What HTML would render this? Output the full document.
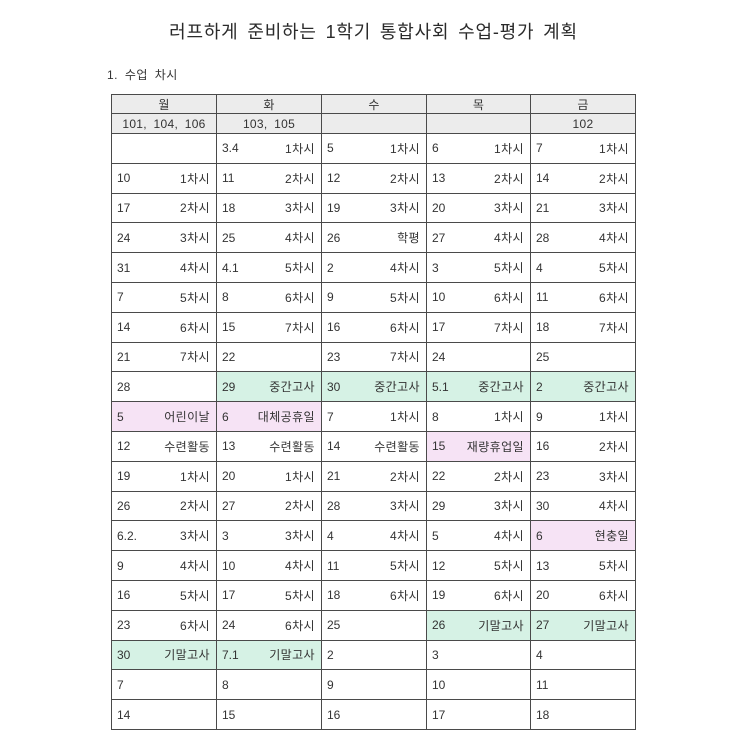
<!DOCTYPE html>
<html><head><meta charset="utf-8">
<style>
html,body{margin:0;padding:0;background:#fff;}
body{width:743px;height:756px;position:relative;overflow:hidden;font-family:"Liberation Sans","Noto Sans CJK KR",sans-serif;color:#333;}
.title{position:absolute;left:0;width:743px;top:20px;text-align:center;font-size:18px;line-height:24px;color:#2a2a2a;letter-spacing:0.8px;word-spacing:3px;padding-left:2px;}
.sub{position:absolute;left:107px;top:67px;font-size:12px;line-height:16px;color:#333;letter-spacing:0.5px;word-spacing:3px;}
.grid{position:absolute;left:111px;top:94px;width:525px;box-sizing:border-box;border-left:1px solid #4a4a4a;border-top:1px solid #4a4a4a;display:grid;grid-template-columns:105px 105px 105px 104px 105px;grid-template-rows:19px 20px repeat(20,29.8px);}
.grid div{box-sizing:border-box;border-right:1px solid #4a4a4a;border-bottom:1px solid #4a4a4a;display:flex;align-items:center;justify-content:space-between;padding:0 6px 0 5px;font-size:12px;white-space:nowrap;}
.grid div span+span{letter-spacing:0.4px;}
.grid div.h{background:#ececec;justify-content:center;padding:0;word-spacing:3px;letter-spacing:0.3px;}
.grid div.g{background:#d6f2e5;}
.grid div.p{background:#f6e3f5;}
</style></head><body>
<div class="title">러프하게 준비하는 1학기 통합사회 수업-평가 계획</div>
<div class="sub">1. 수업 차시</div>
<div class="grid">
<div class="h">월</div><div class="h">화</div><div class="h">수</div><div class="h">목</div><div class="h">금</div>
<div class="h">101, 104, 106</div><div class="h">103, 105</div><div class="h"></div><div class="h"></div><div class="h">102</div>

<div></div><div><span>3.4</span><span>1차시</span></div><div><span>5</span><span>1차시</span></div><div><span>6</span><span>1차시</span></div><div><span>7</span><span>1차시</span></div>
<div><span>10</span><span>1차시</span></div><div><span>11</span><span>2차시</span></div><div><span>12</span><span>2차시</span></div><div><span>13</span><span>2차시</span></div><div><span>14</span><span>2차시</span></div>
<div><span>17</span><span>2차시</span></div><div><span>18</span><span>3차시</span></div><div><span>19</span><span>3차시</span></div><div><span>20</span><span>3차시</span></div><div><span>21</span><span>3차시</span></div>
<div><span>24</span><span>3차시</span></div><div><span>25</span><span>4차시</span></div><div><span>26</span><span>학평</span></div><div><span>27</span><span>4차시</span></div><div><span>28</span><span>4차시</span></div>
<div><span>31</span><span>4차시</span></div><div><span>4.1</span><span>5차시</span></div><div><span>2</span><span>4차시</span></div><div><span>3</span><span>5차시</span></div><div><span>4</span><span>5차시</span></div>
<div><span>7</span><span>5차시</span></div><div><span>8</span><span>6차시</span></div><div><span>9</span><span>5차시</span></div><div><span>10</span><span>6차시</span></div><div><span>11</span><span>6차시</span></div>
<div><span>14</span><span>6차시</span></div><div><span>15</span><span>7차시</span></div><div><span>16</span><span>6차시</span></div><div><span>17</span><span>7차시</span></div><div><span>18</span><span>7차시</span></div>
<div><span>21</span><span>7차시</span></div><div><span>22</span><span></span></div><div><span>23</span><span>7차시</span></div><div><span>24</span><span></span></div><div><span>25</span><span></span></div>
<div><span>28</span><span></span></div><div class="g"><span>29</span><span>중간고사</span></div><div class="g"><span>30</span><span>중간고사</span></div><div class="g"><span>5.1</span><span>중간고사</span></div><div class="g"><span>2</span><span>중간고사</span></div>
<div class="p"><span>5</span><span>어린이날</span></div><div class="p"><span>6</span><span>대체공휴일</span></div><div><span>7</span><span>1차시</span></div><div><span>8</span><span>1차시</span></div><div><span>9</span><span>1차시</span></div>
<div><span>12</span><span>수련활동</span></div><div><span>13</span><span>수련활동</span></div><div><span>14</span><span>수련활동</span></div><div class="p"><span>15</span><span>재량휴업일</span></div><div><span>16</span><span>2차시</span></div>
<div><span>19</span><span>1차시</span></div><div><span>20</span><span>1차시</span></div><div><span>21</span><span>2차시</span></div><div><span>22</span><span>2차시</span></div><div><span>23</span><span>3차시</span></div>
<div><span>26</span><span>2차시</span></div><div><span>27</span><span>2차시</span></div><div><span>28</span><span>3차시</span></div><div><span>29</span><span>3차시</span></div><div><span>30</span><span>4차시</span></div>
<div><span>6.2.</span><span>3차시</span></div><div><span>3</span><span>3차시</span></div><div><span>4</span><span>4차시</span></div><div><span>5</span><span>4차시</span></div><div class="p"><span>6</span><span>현충일</span></div>
<div><span>9</span><span>4차시</span></div><div><span>10</span><span>4차시</span></div><div><span>11</span><span>5차시</span></div><div><span>12</span><span>5차시</span></div><div><span>13</span><span>5차시</span></div>
<div><span>16</span><span>5차시</span></div><div><span>17</span><span>5차시</span></div><div><span>18</span><span>6차시</span></div><div><span>19</span><span>6차시</span></div><div><span>20</span><span>6차시</span></div>
<div><span>23</span><span>6차시</span></div><div><span>24</span><span>6차시</span></div><div><span>25</span><span></span></div><div class="g"><span>26</span><span>기말고사</span></div><div class="g"><span>27</span><span>기말고사</span></div>
<div class="g"><span>30</span><span>기말고사</span></div><div class="g"><span>7.1</span><span>기말고사</span></div><div><span>2</span><span></span></div><div><span>3</span><span></span></div><div><span>4</span><span></span></div>
<div><span>7</span><span></span></div><div><span>8</span><span></span></div><div><span>9</span><span></span></div><div><span>10</span><span></span></div><div><span>11</span><span></span></div>
<div><span>14</span><span></span></div><div><span>15</span><span></span></div><div><span>16</span><span></span></div><div><span>17</span><span></span></div><div><span>18</span><span></span></div>
</div>
</body></html>
